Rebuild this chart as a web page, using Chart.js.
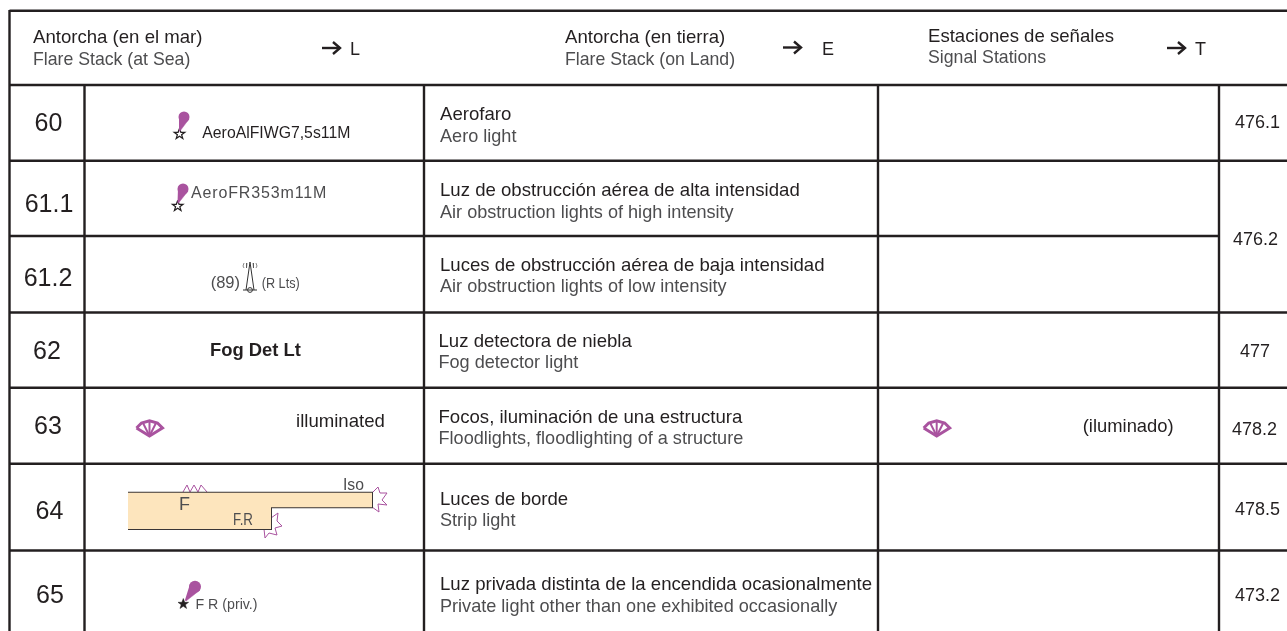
<!DOCTYPE html>
<html>
<head>
<meta charset="utf-8">
<script src="https://cdn.jsdelivr.net/npm/chart.js@4"></script>
<style>
  html, body { margin: 0; padding: 0; background: #fff; }
  canvas { display: block; }
</style>
</head>
<body>
<canvas id="chart" width="1287" height="631"></canvas>
<script>
// table content
const headerEs = ["Antorcha (en el mar)", "Antorcha (en tierra)", "Estaciones de señales"];
const headerEn = ["Flare Stack (at Sea)", "Flare Stack (on Land)", "Signal Stations"];
const headerCodes = ["L", "E", "T"];
const rowNumbers = ["60", "61.1", "61.2", "62", "63", "64", "65"];
const titlesEs = [
  "Aerofaro",
  "Luz de obstrucción aérea de alta intensidad",
  "Luces de obstrucción aérea de baja intensidad",
  "Luz detectora de niebla",
  "Focos, iluminación de una estructura",
  "Luces de borde",
  "Luz privada distinta de la encendida ocasionalmente",
];
const titlesEn = [
  "Aero light",
  "Air obstruction lights of high intensity",
  "Air obstruction lights of low intensity",
  "Fog detector light",
  "Floodlights, floodlighting of a structure",
  "Strip light",
  "Private light other than one exhibited occasionally",
];
const refNumbers = ["476.1", "476.2", "477", "478.2", "478.5", "473.2"];
const symbolLabels = [
  "AeroAlFIWG7,5s11M", "AeroFR353m11M", "(89)", "(R Lts)", "Fog Det Lt",
  "illuminated", "(iluminado)", "F", "F.R", "Iso", "F R (priv.)",
];

// layout, in picture pixels (the x and y scales run 0-1287 and 0-631)
const headerX = [33, 565, 928];
const headerEsY = [42.7, 42.7, 42];
const headerEnY = [65, 65, 63];
const codeX = [350, 822, 1195];
const arrowX = [322, 783, 1167];
const rowNumberX = [48.5, 49, 48, 47, 48, 49.5, 50];
const rowNumberY = [131, 212, 286, 359, 434, 519, 603];
const titleX = [440, 440, 440, 438.5, 438.5, 440, 440];
const titleEsY = [120, 195.7, 270.7, 347, 423, 504.7, 589.7];
const titleEnY = [141.7, 217.7, 291.7, 368, 444, 525.7, 612];
const refX = [1235, 1233, 1240, 1232, 1235, 1235];
const refY = [128, 245, 357, 435, 515, 601];
const symbolX = [202.3, 191, 210.7, 261.7, 210, 296, 1082.7, 179, 233, 343, 195.5];
const symbolY = [138, 198, 288, 288, 356, 427, 432, 510, 525, 490, 609];
const symbolSize = [15.8, 16, 16.5, 14.5, 18.4, 18.6, 18.4, 18, 17, 17, 15];
const symbolFit = [0, 0, 0, 38, 0, 0, 0, 0, 20, 21, 62];

const gridSegments = [
  [[9.5, 10.7], [1287, 10.7]],
  [[9.5, 10], [9.5, 631]],
  [[9.5, 85], [1287, 85]],
  [[9.5, 160.7], [1287, 160.7]],
  [[9.5, 236], [1218, 236]],
  [[9.5, 312.5], [1287, 312.5]],
  [[9.5, 387.7], [1287, 387.7]],
  [[9.5, 463.7], [1287, 463.7]],
  [[9.5, 550.5], [1287, 550.5]],
  [[84.5, 85], [84.5, 631]],
  [[424, 85], [424, 631]],
  [[878, 85], [878, 631]],
  [[1219, 85], [1219, 631]],
];

const stripTop = [[128, 492.7], [372, 492.7]];
const stripBottom = [[128, 529], [271, 529], [271, 507.3], [372, 507.3]];
const stripOutline = [[128, 492.7], [372, 492.7], [372, 507.3], [271, 507.3], [271, 529], [128, 529]];
const stripZigzag = [[183, 492], [187, 485], [190, 492], [194, 485], [198, 492], [201, 485], [207, 492]];
const burstUpper = [[372, 493], [378, 487], [380, 493], [387, 493], [382, 500], [387, 505], [378, 504], [379, 512], [372, 507]];
const burstLower = [[271, 518], [278, 513], [277, 521], [282, 526], [275, 528], [277, 535], [269, 533], [265, 538], [264, 529], [271, 529]];
const lightCircles = [[195, 496.3], [368, 500.7], [266.5, 522]];

const starOutline = [[0, -5.5], [1.4, -1.7], [5.3, -1.7], [2.1, 0.7], [3.3, 4.5], [0, 2.2], [-3.3, 4.5], [-2.1, 0.7], [-5.3, -1.7], [-1.4, -1.7], [0, -5.5]];
const flareStars = [[179.5, 134], [177.7, 206], [183.3, 604]];
const flareHeads = [[184, 117], [183, 189], [195, 586.7]];
const flareTails = [
  [[179, 115], [189, 119], [180, 131], [179, 131]],
  [[178, 187], [188, 191], [178.5, 203], [177.5, 203]],
  [[190, 584], [200, 590], [186, 601], [185, 600]],
];

const fanArc = [[-13, 8], [-8, 3], [0, 0.8], [8, 3], [13, 8], [0, 16], [-13, 8]];
const fanRibs = [[[0, 16], [-7, 2]], [[0, 16], [0, 0.8]], [[0, 16], [7, 2]]];
const fanOrigins = [[149.5, 420], [936.7, 420]];

const towerLines = [[[246, 290], [250, 262], [254, 290]], [[243, 290], [257, 290]]];
const towerLeftWave = [[[244, 263], [243, 266], [244, 268]], [[247, 263], [246, 266], [247, 268]]];
const towerRightWave = [[[253, 263], [254, 266], [253, 268]], [[256, 263], [257, 266], [256, 268]]];

const arrowShaft = 18;
const arrowHead = [[11, -6], [18, 0], [11, 6]];
const arrowY = [48, 47.5, 48];

const INK = "#231f20";
const LIGHT_INK = "#4d4d4f";
const PURPLE = "#a9539f";
const SAND = "#fde5bd";

function toPoints(list) {
  return list.map(([x, y]) => ({ x, y }));
}

function moved(list, [dx, dy]) {
  return list.map(([x, y]) => [x + dx, y + dy]);
}

function strokeSet(list, color, width) {
  return {
    data: toPoints(list),
    borderColor: color,
    borderWidth: width,
    pointRadius: 0,
    showLine: true,
    fill: false,
    tension: 0,
  };
}

function shapeSet(list, color) {
  return {
    data: toPoints(list),
    borderColor: color,
    borderWidth: 0.5,
    backgroundColor: color,
    pointRadius: 0,
    showLine: true,
    fill: "shape",
    tension: 0,
  };
}

function circleSet(list, color, radius, background, width) {
  return {
    data: toPoints(list),
    showLine: false,
    pointStyle: "circle",
    pointRadius: radius,
    pointBorderWidth: width,
    pointBorderColor: color,
    pointBackgroundColor: background,
  };
}

const datasets = [];

// strip light band first, everything else sits on top of it
datasets.push({
  data: toPoints(stripTop),
  borderWidth: 0,
  pointRadius: 0,
  showLine: true,
  backgroundColor: SAND,
  fill: "+1",
});
datasets.push({ data: toPoints(stripBottom), borderWidth: 0, pointRadius: 0, showLine: true, fill: false });
datasets.push(strokeSet(stripOutline, "#3a3536", 2));
datasets.push(strokeSet(stripZigzag, PURPLE, 1));
datasets.push(strokeSet(burstUpper, PURPLE, 1));
datasets.push(strokeSet(burstLower, PURPLE, 1));
datasets.push(circleSet(lightCircles, "#3a3536", 3.6, "rgba(0,0,0,0)", 1));

gridSegments.forEach((seg) => datasets.push(strokeSet(seg, INK, 2.4)));

flareTails.forEach((tail) => datasets.push(shapeSet(tail, PURPLE)));
datasets.push(circleSet(flareHeads.slice(0, 2), PURPLE, 5.5, PURPLE, 0));
datasets.push(circleSet(flareHeads.slice(2), PURPLE, 6, PURPLE, 0));
datasets.push(strokeSet(moved(starOutline, flareStars[0]), INK, 1.2));
datasets.push(strokeSet(moved(starOutline, flareStars[1]), INK, 1.2));
datasets.push(shapeSet(moved(starOutline, flareStars[2]), INK));

fanOrigins.forEach((origin) => {
  datasets.push(strokeSet(moved(fanArc, origin), PURPLE, 3));
  fanRibs.forEach((rib) => datasets.push(strokeSet(moved(rib, origin), PURPLE, 2)));
});

towerLines.forEach((l) => datasets.push(strokeSet(l, "#333", 1)));
towerLeftWave.concat(towerRightWave).forEach((l) => datasets.push(strokeSet(l, "#555", 0.7)));
datasets.push(circleSet([[250, 290]], "#333", 2.4, "#fff", 1));

arrowX.forEach((x, i) => {
  datasets.push(strokeSet([[x, arrowY[i]], [x + arrowShaft, arrowY[i]]], INK, 2.4));
  datasets.push(strokeSet(moved(arrowHead, [x, arrowY[i]]), INK, 2.4));
});

const tableText = {
  id: "tableText",
  afterDatasetsDraw(chart) {
    const { ctx, scales } = chart;
    const put = (text, x, y, size, color, opts = {}) => {
      ctx.font = `${opts.bold ? "bold " : ""}${size}px "Liberation Sans", Arial, sans-serif`;
      ctx.fillStyle = color;
      ctx.textAlign = opts.align || "left";
      ctx.textBaseline = "alphabetic";
      ctx.letterSpacing = opts.spacing || "0px";
      const px = scales.x.getPixelForValue(x);
      const py = scales.y.getPixelForValue(y);
      if (opts.fit) ctx.fillText(text, px, py, opts.fit);
      else ctx.fillText(text, px, py);
    };
    ctx.save();
    headerEs.forEach((t, i) => {
      put(t, headerX[i], headerEsY[i], 18.6, INK);
      put(headerEn[i], headerX[i], headerEnY[i], 17.7, LIGHT_INK);
      put(headerCodes[i], codeX[i], 55, 18, INK);
    });
    rowNumbers.forEach((t, i) => put(t, rowNumberX[i], rowNumberY[i], 25, INK, { align: "center" }));
    titlesEs.forEach((t, i) => {
      put(t, titleX[i], titleEsY[i], 18.6, INK);
      put(titlesEn[i], titleX[i], titleEnY[i], 18.1, LIGHT_INK);
    });
    refNumbers.forEach((t, i) => put(t, refX[i], refY[i], 18, INK));
    symbolLabels.forEach((t, i) => {
      const opts = { fit: symbolFit[i] };
      if (t === "Fog Det Lt") opts.bold = true;
      if (t === "AeroFR353m11M") opts.spacing = "0.85px";
      put(t, symbolX[i], symbolY[i], symbolSize[i], i === 0 || i === 4 || i === 5 || i === 6 ? INK : LIGHT_INK, opts);
    });
    ctx.restore();
  },
};

new Chart(document.getElementById("chart").getContext("2d"), {
  type: "scatter",
  data: { datasets },
  options: {
    responsive: false,
    animation: false,
    layout: { padding: 0, autoPadding: false },
    plugins: { legend: { display: false }, tooltip: { enabled: false }, title: { display: false } },
    scales: {
      x: { type: "linear", display: false, min: 0, max: 1287 },
      y: { type: "linear", display: false, min: 0, max: 631, reverse: true },
    },
  },
  plugins: [tableText],
});
</script>
</body>
</html>
